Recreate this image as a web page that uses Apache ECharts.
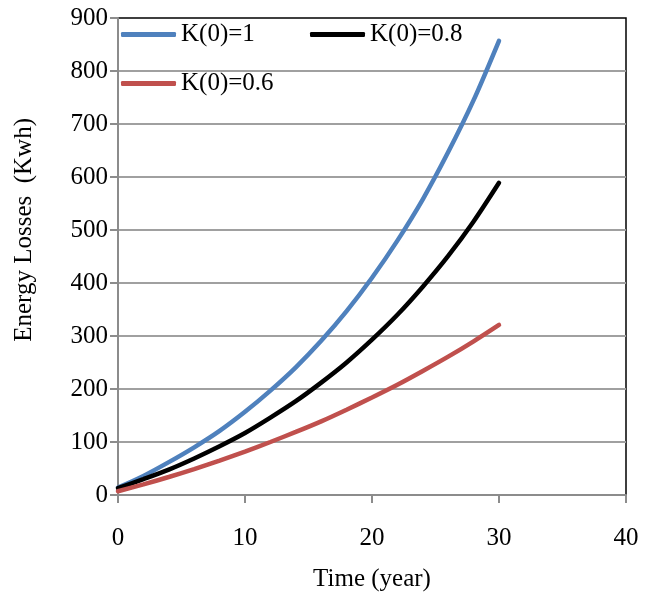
<!DOCTYPE html>
<html>
<head>
<meta charset="utf-8">
<script src="https://cdn.jsdelivr.net/npm/echarts@6/dist/echarts.min.js"></script>
<style>html,body{margin:0;padding:0;background:#fff}#c{width:659px;height:600px}</style>
</head>
<body>
<div id="c"></div>
<script>
var years = [0, 2, 4, 6, 8, 10, 12, 14, 16, 18, 20, 22, 24, 26, 28, 30];
var k1 = [14, 36, 62, 90, 121, 157, 197, 241, 291, 347, 410, 480, 558, 647, 745, 857];
var k08 = [13, 30, 48, 69, 92, 117, 146, 177, 212, 250, 293, 340, 393, 451, 516, 589];
var k06 = [7, 20, 34, 49, 65, 82, 100, 119, 139, 161, 184, 208, 234, 261, 290, 321];
var names = ['K(0)=1', 'K(0)=0.8', 'K(0)=0.6'];
var colors = ['#4F81BD', '#000000', '#C0504D'];

function pairs(v) { return years.map(function (t, i) { return [t, v[i]]; }); }
var font = 'Liberation Serif, Times New Roman, serif';
var chart = echarts.init(document.getElementById('c'));
var legendBase = { orient: 'horizontal', padding: 0, icon: 'roundRect', itemWidth: 55, itemHeight: 5, itemGap: 5,
  textStyle: { fontFamily: font, fontSize: 25, color: '#000' } };
chart.setOption({
  animation: false,
  color: colors,
  grid: { left: 118, right: 33, top: 18, bottom: 105, show: true, borderColor: '#000', borderWidth: 1.5, backgroundColor: 'transparent' },
  legend: [
    Object.assign({}, legendBase, { data: [names[0]], left: 121, top: 22 }),
    Object.assign({}, legendBase, { data: [names[1]], left: 310, top: 22 }),
    Object.assign({}, legendBase, { data: [names[2]], left: 121, top: 71 })
  ],
  xAxis: {
    type: 'value', min: 0, max: 40, interval: 10,
    name: 'Time (year)', nameLocation: 'middle', nameGap: 72,
    nameTextStyle: { fontFamily: font, fontSize: 25, color: '#000' },
    axisLine: { show: true, lineStyle: { color: '#8c8c8c', width: 2 } },
    axisTick: { show: true, inside: false, length: 8, lineStyle: { color: '#8c8c8c', width: 2 } },
    axisLabel: { fontFamily: font, fontSize: 25, color: '#000', margin: 31 },
    splitLine: { show: false }
  },
  yAxis: {
    type: 'value', min: 0, max: 900, interval: 100,
    axisLine: { show: true, lineStyle: { color: '#8c8c8c', width: 2 } },
    axisTick: { show: true, inside: false, length: 8, lineStyle: { color: '#8c8c8c', width: 2 } },
    axisLabel: { fontFamily: font, fontSize: 25, color: '#000', margin: 10 },
    splitLine: { show: true, showMaxLine: false, lineStyle: { color: '#a0a0a0', width: 2 } }
  },
  graphic: [{
    type: 'text', left: 12, top: 118, rotation: Math.PI / 2,
    style: { text: 'Energy Losses  (Kwh)', fontFamily: font, fontSize: 25, fill: '#000' }
  }],
  series: [
    { name: names[0], type: 'line', data: pairs(k1), smooth: 0.3, showSymbol: false, symbol: 'none', lineStyle: { width: 4.5, color: colors[0], cap: 'round' } },
    { name: names[1], type: 'line', data: pairs(k08), smooth: 0.3, showSymbol: false, symbol: 'none', lineStyle: { width: 4.5, color: colors[1], cap: 'round' } },
    { name: names[2], type: 'line', data: pairs(k06), smooth: 0.3, showSymbol: false, symbol: 'none', lineStyle: { width: 4.5, color: colors[2], cap: 'round' } }
  ]
});
</script>
</body>
</html>
